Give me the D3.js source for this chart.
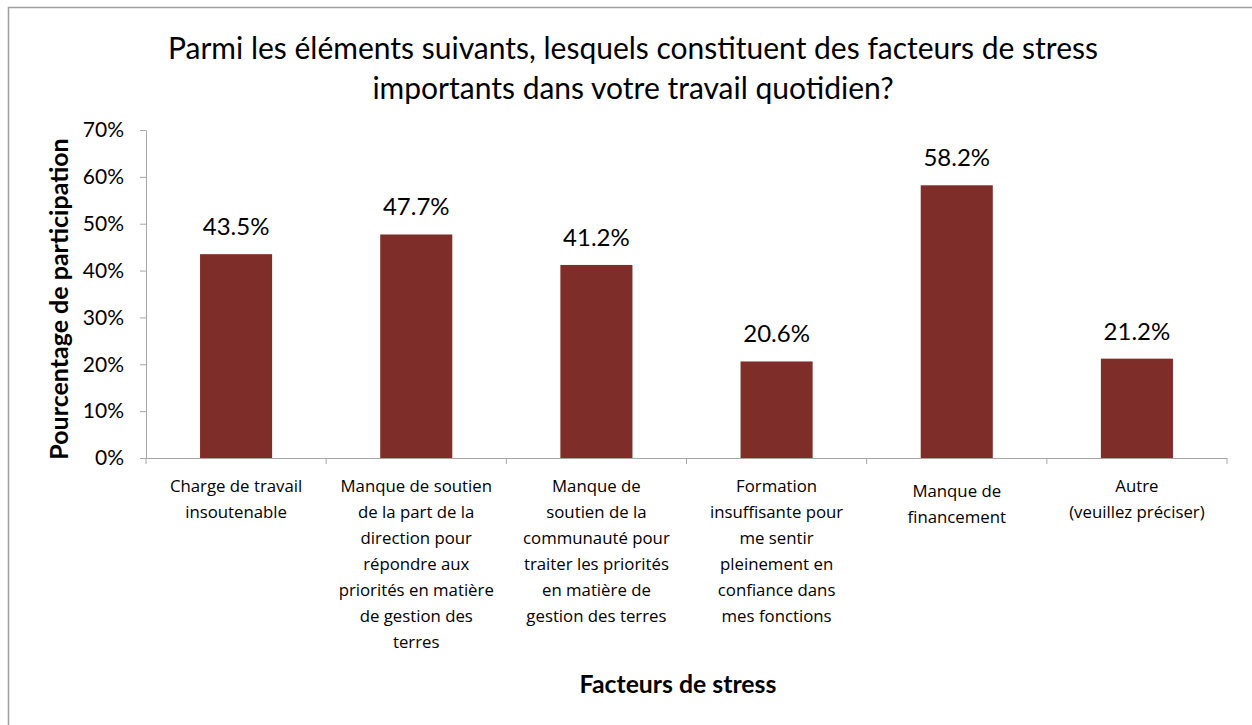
<!DOCTYPE html>
<html><head><meta charset="utf-8">
<script src="https://cdn.jsdelivr.net/npm/d3@7/dist/d3.min.js"></script>
<style>body{margin:0;background:#fff}svg{display:block}</style>
</head><body>
<svg id="c" width="1252" height="725"></svg>
<script>
const categories = [
  "Charge de travail\ninsoutenable",
  "Manque de soutien\nde la part de la\ndirection pour\nrépondre aux\npriorités en matière\nde gestion des\nterres",
  "Manque de\nsoutien de la\ncommunauté pour\ntraiter les priorités\nen matière de\ngestion des terres",
  "Formation\ninsuffisante pour\nme sentir\npleinement en\nconfiance dans\nmes fonctions",
  "Manque de\nfinancement",
  "Autre\n(veuillez préciser)"
];
const values = [43.5, 47.7, 41.2, 20.6, 58.2, 21.2];
const yTicks = [0, 10, 20, 30, 40, 50, 60, 70];
const titleLines = ["Parmi les éléments suivants, lesquels constituent des facteurs de stress", "importants dans votre travail quotidien?"];
const yTitle = "Pourcentage de participation";
const xTitle = "Facteurs de stress";

const svg = d3.select("#c");
const m = {left:146, right:1227, top:130, bottom:458};
const barColor = "#7F2D28";
const axisColor = "#A6A6A6";
const fTitle = "Lato, 'Open Sans', sans-serif";

// outer border (top and left visible)
svg.append("rect").attr("x", 8.5).attr("y", 7.5).attr("width", 1300).attr("height", 800)
  .attr("fill", "none").attr("stroke", "#A0A0A0").attr("stroke-width", 1.5);

const x = d3.scaleBand().domain(d3.range(categories.length)).range([m.left, m.right]).paddingInner(0.6).paddingOuter(0.3);
const y = d3.scaleLinear().domain([0, 70]).range([m.bottom, m.top]);

// title
svg.append("text").attr("text-anchor", "middle")
  .attr("font-family", fTitle).attr("font-size", 30).attr("fill", "#000")
  .selectAll("tspan").data(titleLines).join("tspan")
  .attr("x", 633).attr("y", (d,i) => 59 + i*40).text(d => d);

// y axis
const yAxis = d3.axisLeft(y).tickValues(yTicks).tickFormat(d => d + "%").tickSize(6).tickSizeOuter(0);
const gy = svg.append("g").attr("transform", `translate(${m.left},0)`).call(yAxis);
gy.select(".domain").attr("stroke", axisColor);
gy.selectAll(".tick line").attr("stroke", axisColor);
gy.selectAll(".tick text").attr("font-family", fTitle).attr("font-size", 21).attr("fill", "#000").attr("x", -22);

// x axis
const xb = d3.scaleLinear().domain([0, categories.length]).range([m.left, m.right]);
svg.append("line").attr("x1", m.left).attr("x2", m.right).attr("y1", m.bottom+0.5).attr("y2", m.bottom+0.5).attr("stroke", axisColor);
svg.append("g").selectAll("line").data(d3.range(categories.length+1)).join("line")
  .attr("x1", d => xb(d)).attr("x2", d => xb(d)).attr("y1", m.bottom).attr("y2", m.bottom+6).attr("stroke", axisColor);

// bars
svg.append("g").selectAll("rect").data(values).join("rect")
  .attr("x", (d,i) => x(i)).attr("width", x.bandwidth())
  .attr("y", d => y(d)).attr("height", d => y(0) - y(d)).attr("fill", barColor);

// data labels
svg.append("g").selectAll("text").data(values).join("text")
  .attr("x", (d,i) => x(i) + x.bandwidth()/2).attr("y", d => y(d) - 19)
  .attr("text-anchor", "middle").attr("font-family", fTitle).attr("font-size", 24).attr("fill", "#000")
  .text(d => d.toFixed(1) + "%");

// category labels
const cl = svg.append("g").selectAll("text").data(categories).join("text")
  .attr("text-anchor", "middle").attr("font-family", "'Open Sans', 'Noto Sans', sans-serif").attr("font-size", 16.8).attr("fill", "#000");
cl.each(function(d, i) {
  const cx = x(i) + x.bandwidth()/2;
  const lines = d.split("\n");
  const y0 = lines.length === 2 && i === 4 ? 497 : 492;
  d3.select(this).selectAll("tspan").data(lines).join("tspan")
    .attr("x", cx).attr("y", (t, j) => y0 + j*26).text(t => t);
});

// axis titles
svg.append("text").attr("transform", `translate(68,${(m.top+m.bottom)/2+5}) rotate(-90)`)
  .attr("text-anchor", "middle").attr("font-family", fTitle).attr("font-weight", "bold").attr("font-size", 25).attr("fill", "#000").text(yTitle);
svg.append("text").attr("x", 678).attr("y", 693)
  .attr("text-anchor", "middle").attr("font-family", fTitle).attr("font-weight", "bold").attr("font-size", 24.8).attr("fill", "#000").text(xTitle);
</script>
</body></html>
